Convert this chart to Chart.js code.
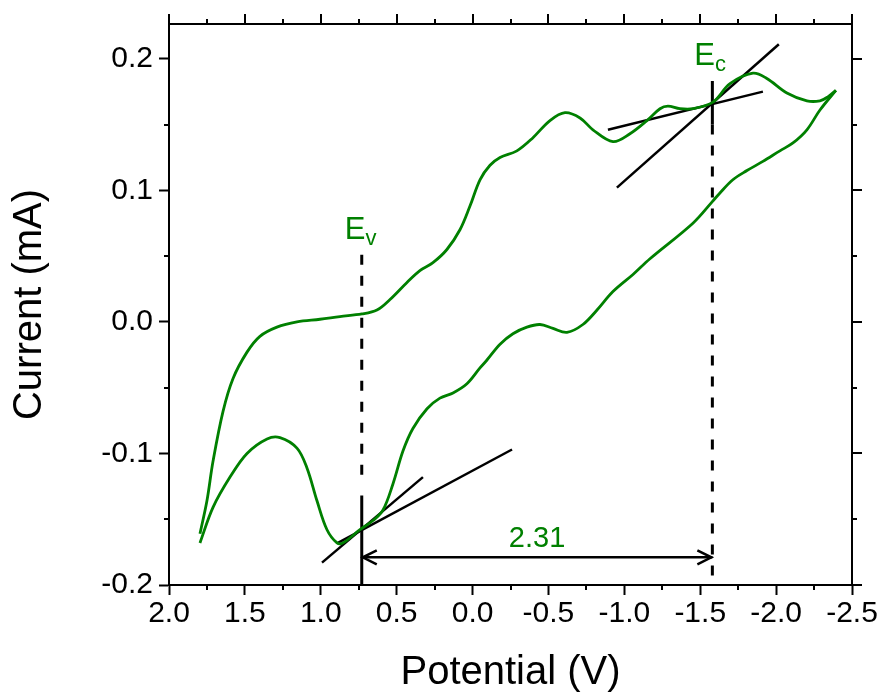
<!DOCTYPE html>
<html>
<head>
<meta charset="utf-8">
<script src="https://cdn.jsdelivr.net/npm/chart.js@4.4.1/dist/chart.umd.min.js"></script>
<style>
    html, body { margin: 0; padding: 0; background: #fff; }
    #wrap { width: 884px; height: 700px; }
</style>
</head>
<body>
<div id="wrap"><canvas id="cvChart"></canvas></div>
<script>
// axis ticks
const xTickValues = [2.0, 1.5, 1.0, 0.5, 0.0, -0.5, -1.0, -1.5, -2.0, -2.5];
const yTickValues = [-0.2, -0.1, 0.0, 0.1, 0.2];

// upper branch of the voltammogram (V, mA)
const upperPotential = [1.796, 1.750, 1.710, 1.644, 1.578, 1.486, 1.401, 1.289, 1.157, 1.005,
    0.874, 0.729, 0.630, 0.544, 0.432, 0.347, 0.261, 0.169, 0.083, 0.017,
    -0.049, -0.115, -0.181, -0.292, -0.398, -0.510, -0.609, -0.708, -0.793, -0.925,
    -1.037, -1.149, -1.235, -1.287, -1.366, -1.452, -1.584, -1.696, -1.847, -1.939,
    -2.071, -2.203, -2.289, -2.341, -2.394];
const upperCurrent = [-0.161, -0.136, -0.106, -0.068, -0.043, -0.023, -0.011, -0.004, 0.000, 0.002,
    0.004, 0.006, 0.009, 0.017, 0.030, 0.039, 0.045, 0.055, 0.070, 0.088,
    0.108, 0.119, 0.125, 0.130, 0.140, 0.153, 0.159, 0.155, 0.146, 0.137,
    0.143, 0.153, 0.162, 0.164, 0.162, 0.162, 0.167, 0.181, 0.189, 0.185,
    0.174, 0.168, 0.168, 0.171, 0.176];

// lower branch, from the switching point back
const lowerPotential = [-2.394, -2.289, -2.203, -2.111, -2.025, -1.913, -1.808, -1.715, -1.630, -1.577,
    -1.452, -1.169, -1.057, -0.925, -0.820, -0.727, -0.622, -0.530, -0.444, -0.358,
    -0.266, -0.181, -0.095, -0.049, 0.037, 0.129, 0.215, 0.300, 0.393, 0.458,
    0.524, 0.590, 0.656, 0.742, 0.854, 0.893, 0.959, 1.025, 1.091, 1.157,
    1.269, 1.354, 1.486, 1.598, 1.710, 1.796];
const lowerCurrent = [0.176, 0.161, 0.146, 0.136, 0.130, 0.122, 0.115, 0.108, 0.098, 0.091,
    0.075, 0.048, 0.036, 0.023, 0.009, -0.002, -0.008, -0.005, -0.002, -0.004,
    -0.009, -0.017, -0.029, -0.035, -0.047, -0.054, -0.058, -0.066, -0.081, -0.098,
    -0.123, -0.143, -0.151, -0.158, -0.168, -0.168, -0.158, -0.136, -0.111, -0.096,
    -0.088, -0.089, -0.100, -0.118, -0.141, -0.168];

// onset tangents
const tanV1Potential = [0.992, 0.327];
const tanV1Current = [-0.183, -0.118];
const tanV2Potential = [0.887, -0.260];
const tanV2Current = [-0.168, -0.097];
const tanC1Potential = [-0.951, -2.018];
const tanC1Current = [0.102, 0.211];
const tanC2Potential = [-0.892, -1.913];
const tanC2Current = [0.146, 0.175];

// onset markers
const eV = 0.73;
const eC = -1.58;
const evDashCurrent = [0.051, -0.123];
const evSolidCurrent = [-0.132, -0.2];
const ecSolidCurrent = [0.183, 0.150];
const ecDashCurrent = [0.150, -0.195];
const arrowCurrent = -0.179;
const gapLabel = '2.31';

const GREEN = '#008000';
const FONT = '"Liberation Sans", Arial, sans-serif';

const pts = (xs, ys) => xs.map((x, i) => ({ x: x, y: ys[i] }));

function lineSet(data, color, width, dash) {
    return {
        data: data,
        showLine: true,
        borderColor: color,
        borderWidth: width,
        borderDash: dash || [],
        pointRadius: 0,
        tension: 0
    };
}

const decorations = {
    id: 'decorations',
    beforeDraw(chart) {
        const ctx = chart.ctx;
        ctx.save();
        ctx.fillStyle = '#fff';
        ctx.fillRect(0, 0, chart.width, chart.height);
        ctx.restore();
    },
    afterDraw(chart) {
        const { ctx, chartArea: a, scales: { x, y } } = chart;
        ctx.save();
        ctx.strokeStyle = '#000';
        ctx.lineWidth = 2;

        // top and right frame
        ctx.beginPath();
        ctx.moveTo(a.left - 1, a.top);
        ctx.lineTo(a.right, a.top);
        ctx.lineTo(a.right, a.bottom + 1);
        ctx.stroke();

        // ticks on top / right, minors everywhere
        ctx.beginPath();
        xTickValues.forEach(v => {
            const px = Math.round(x.getPixelForValue(v));
            ctx.moveTo(px, a.top); ctx.lineTo(px, a.top - 10);
        });
        for (let i = 0; i < xTickValues.length - 1; i++) {
            const px = Math.round(x.getPixelForValue((xTickValues[i] + xTickValues[i + 1]) / 2));
            ctx.moveTo(px, a.top); ctx.lineTo(px, a.top - 5);
            ctx.moveTo(px, a.bottom); ctx.lineTo(px, a.bottom + 5);
        }
        yTickValues.forEach(v => {
            const py = Math.round(y.getPixelForValue(v));
            ctx.moveTo(a.right, py); ctx.lineTo(a.right + 10, py);
        });
        for (let i = 0; i < yTickValues.length - 1; i++) {
            const py = Math.round(y.getPixelForValue((yTickValues[i] + yTickValues[i + 1]) / 2));
            ctx.moveTo(a.right, py); ctx.lineTo(a.right + 5, py);
            ctx.moveTo(a.left, py); ctx.lineTo(a.left - 5, py);
        }
        ctx.stroke();

        // arrow heads
        const ay = y.getPixelForValue(arrowCurrent);
        const x1 = x.getPixelForValue(eV) + 1;
        const x2 = x.getPixelForValue(eC) - 1;
        ctx.lineWidth = 2.5;
        ctx.beginPath();
        ctx.moveTo(x1 + 14, ay - 7); ctx.lineTo(x1, ay); ctx.lineTo(x1 + 14, ay + 7);
        ctx.moveTo(x2 - 14, ay - 7); ctx.lineTo(x2, ay); ctx.lineTo(x2 - 14, ay + 7);
        ctx.stroke();

        // labels
        ctx.fillStyle = GREEN;
        ctx.textBaseline = 'alphabetic';
        ctx.textAlign = 'center';
        ctx.font = '29px ' + FONT;
        ctx.fillText(gapLabel, (x1 + x2) / 2, ay - 10);

        ctx.textAlign = 'left';
        const drawE = (sub, px, py) => {
            ctx.font = '31px ' + FONT;
            ctx.fillText('E', px, py);
            const w = ctx.measureText('E').width;
            ctx.font = '22px ' + FONT;
            ctx.fillText(sub, px + w, py + 6);
        };
        drawE('v', x.getPixelForValue(eV) - 17, y.getPixelForValue(0.063));
        drawE('c', x.getPixelForValue(eC) - 18, y.getPixelForValue(0.195));
        ctx.restore();
    }
};

const ctx = document.getElementById('cvChart').getContext('2d');

const cvChart = new Chart(ctx, {
    type: 'scatter',
    data: {
        datasets: [
            Object.assign(lineSet(pts(upperPotential, upperCurrent), GREEN, 2.8), { tension: 0.35 }),
            Object.assign(lineSet(pts(lowerPotential, lowerCurrent), GREEN, 2.8), { tension: 0.35 }),
            lineSet(pts(tanV1Potential, tanV1Current), '#000', 2.5),
            lineSet(pts(tanV2Potential, tanV2Current), '#000', 2.5),
            lineSet(pts(tanC1Potential, tanC1Current), '#000', 2.5),
            lineSet(pts(tanC2Potential, tanC2Current), '#000', 2.5),
            lineSet(pts([eV, eV], evDashCurrent), '#000', 3, [10, 11]),
            lineSet(pts([eV, eV], evSolidCurrent), '#000', 3),
            lineSet(pts([eC, eC], ecSolidCurrent), '#000', 3),
            lineSet(pts([eC, eC], ecDashCurrent), '#000', 3, [10, 11]),
            lineSet(pts([eV, eC], [arrowCurrent, arrowCurrent]), '#000', 2.5)
        ]
    },
    options: {
        responsive: true,
        maintainAspectRatio: false,
        animation: false,
        layout: {
            padding: { top: 20, right: 32, left: 0, bottom: 0 }
        },
        plugins: {
            legend: { display: false },
            tooltip: { enabled: false }
        },
        scales: {
            x: {
                type: 'linear',
                position: 'bottom',
                min: -2.5,
                max: 2.0,
                reverse: true,
                afterFit: function (scale) { scale.height = 115; },
                afterBuildTicks: function (scale) {
                    scale.ticks = xTickValues.map(v => ({ value: v }));
                },
                border: { display: true, color: '#000', width: 2 },
                grid: {
                    drawOnChartArea: false,
                    drawTicks: true,
                    tickLength: 10,
                    tickWidth: 2,
                    tickColor: '#000'
                },
                ticks: {
                    color: '#000',
                    padding: 1,
                    maxRotation: 0,
                    font: { family: FONT, size: 30 },
                    callback: v => v.toFixed(1)
                },
                title: {
                    display: true,
                    text: 'Potential (V)',
                    color: '#000',
                    font: { family: FONT, size: 40 },
                    padding: { top: 0, bottom: 3 }
                }
            },
            y: {
                type: 'linear',
                min: -0.2,
                max: 0.2264,
                afterFit: function (scale) { scale.width = 169; },
                afterBuildTicks: function (scale) {
                    scale.ticks = yTickValues.map(v => ({ value: v }));
                },
                border: { display: true, color: '#000', width: 2 },
                grid: {
                    drawOnChartArea: false,
                    drawTicks: true,
                    tickLength: 10,
                    tickWidth: 2,
                    tickColor: '#000'
                },
                ticks: {
                    color: '#000',
                    padding: 6,
                    font: { family: FONT, size: 30 },
                    callback: v => v.toFixed(1)
                },
                title: {
                    display: true,
                    text: 'Current (mA)',
                    color: '#000',
                    font: { family: FONT, size: 40 },
                    padding: { top: 6, bottom: 0 }
                }
            }
        }
    },
    plugins: [decorations]
});
</script>
</body>
</html>
